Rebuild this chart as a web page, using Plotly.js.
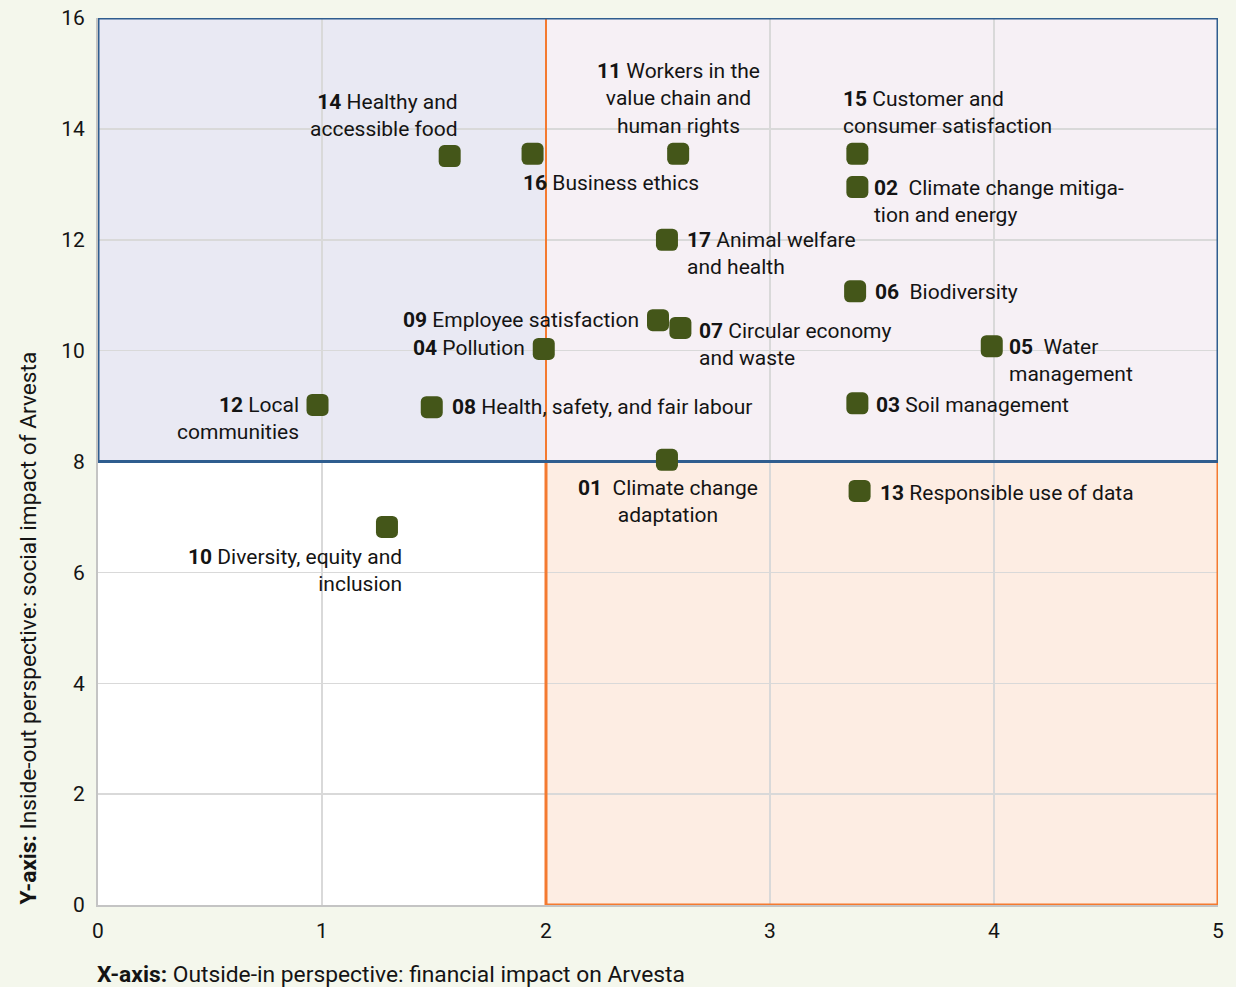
<!DOCTYPE html>
<html>
<head>
<meta charset="utf-8">
<script src="https://cdn.plot.ly/plotly-3.0.1.min.js"></script>
<style>
  html, body { margin: 0; padding: 0; background: #f4f7ec; }
  #chart { width: 1236px; height: 987px; }
  .scatterlayer path.point { stroke-linejoin: round; }
</style>
</head>
<body>
<div id="chart"></div>
<script>
// ---- Data ----
const topicIds = ['01','02','03','04','05','06','07','08','09','10','11','12','13','14','15','16','17'];
const topicNames = [
  'Climate change<br>adaptation',
  'Climate change mitiga-<br>tion and energy',
  'Soil management',
  'Pollution',
  'Water<br>management',
  'Biodiversity',
  'Circular economy<br>and waste',
  'Health, safety, and fair labour',
  'Employee satisfaction',
  'Diversity, equity and<br>inclusion',
  'Workers in the<br>value chain and<br>human rights',
  'Local<br>communities',
  'Responsible use of data',
  'Healthy and<br>accessible food',
  'Customer and<br>consumer satisfaction',
  'Business ethics',
  'Animal welfare<br>and health'
];
// X: outside-in (financial impact), Y: inside-out (social impact)
const financialImpact = [2.54, 3.39, 3.39, 1.99, 3.99, 3.38, 2.60, 1.49, 2.50, 1.29, 2.59, 0.98, 3.40, 1.57, 3.39, 1.94, 2.54];
const socialImpact    = [8.03, 12.95, 9.05, 10.03, 10.08, 11.07, 10.41, 8.98, 10.55, 6.82, 13.55, 9.02, 7.47, 13.51, 13.55, 13.55, 12.0];
const xTicks = [0, 1, 2, 3, 4, 5];
const yTicks = [0, 2, 4, 6, 8, 10, 12, 14, 16];
const wideGap = ['01','02','05','06'];

// ---- Label placement (pixel offsets relative to each marker) ----
const labelPlacement = {
  '01': {xa:'center', ya:'middle', al:'center', dx:1,   dy:-42},
  '02': {xa:'left',   ya:'middle', al:'left',   dx:15,  dy:-14.5},
  '03': {xa:'left',   ya:'middle', al:'left',   dx:17,  dy:-2},
  '04': {xa:'right',  ya:'middle', al:'right',  dx:-17, dy:1},
  '05': {xa:'left',   ya:'middle', al:'left',   dx:15,  dy:-14},
  '06': {xa:'left',   ya:'middle', al:'left',   dx:18,  dy:-1},
  '07': {xa:'left',   ya:'middle', al:'left',   dx:17,  dy:-16.5},
  '08': {xa:'left',   ya:'middle', al:'left',   dx:18,  dy:0},
  '09': {xa:'right',  ya:'middle', al:'right',  dx:-17, dy:0},
  '10': {xa:'right',  ya:'middle', al:'right',  dx:17,  dy:-44},
  '11': {xa:'center', ya:'bottom', al:'center', dx:0,   dy:14},
  '12': {xa:'right',  ya:'middle', al:'right',  dx:-17, dy:-13.5},
  '13': {xa:'left',   ya:'middle', al:'left',   dx:18,  dy:-2},
  '14': {xa:'right',  ya:'bottom', al:'right',  dx:10,  dy:13},
  '15': {xa:'left',   ya:'bottom', al:'left',   dx:-16, dy:14},
  '16': {xa:'left',   ya:'middle', al:'left',   dx:-12, dy:-29},
  '17': {xa:'left',   ya:'middle', al:'left',   dx:18,  dy:-13.5}
};

const FONT = 'Roboto, "Noto Sans", sans-serif';
const TXT = '#141414';

const trace = {
  type: 'scatter',
  mode: 'markers',
  x: financialImpact,
  y: socialImpact,
  marker: {
    symbol: 'square',
    size: 11,
    color: '#445619',
    line: {color: '#445619', width: 11}
  },
  hoverinfo: 'skip'
};

const annotations = topicIds.map((id, i) => {
  const p = labelPlacement[id];
  const gap = wideGap.includes(id) ? '\u00a0\u00a0' : ' ';
  return {
    x: financialImpact[i], y: socialImpact[i], xref: 'x', yref: 'y',
    text: '<b>' + id + '</b>' + gap + topicNames[i],
    showarrow: false,
    xanchor: p.xa, yanchor: p.ya, align: p.al,
    xshift: p.dx, yshift: p.dy,
    font: {family: FONT, size: 21, color: TXT}
  };
});

annotations.push({
  xref: 'paper', yref: 'paper', x: 0, y: 0,
  xanchor: 'left', yanchor: 'middle', xshift: -3, yshift: -69,
  showarrow: false,
  text: '<b>X-axis:</b> Outside-in perspective: financial impact on Arvesta',
  font: {family: FONT, size: 22.8, color: TXT}
});
annotations.push({
  xref: 'paper', yref: 'paper', x: 0, y: 0,
  xanchor: 'center', yanchor: 'bottom', xshift: -70, yshift: -2,
  textangle: -90,
  showarrow: false,
  text: '<b>Y-axis:</b> Inside-out perspective: social impact of Arvesta',
  font: {family: FONT, size: 22.7, color: TXT}
});

const shapes = [
  {type:'rect', layer:'below', xref:'x', yref:'y', x0:0, x1:2, y0:8, y1:16, fillcolor:'#e9e9f3', line:{width:0}},
  {type:'rect', layer:'below', xref:'x', yref:'y', x0:2, x1:5, y0:8, y1:16, fillcolor:'#f6f0f5', line:{width:0}},
  {type:'rect', layer:'below', xref:'x', yref:'y', x0:2, x1:5, y0:0, y1:8, fillcolor:'#fdede3', line:{width:0}},
  {type:'rect', layer:'below', xref:'x', yref:'y', x0:0, x1:2, y0:0, y1:8, fillcolor:'#ffffff', line:{width:0}},
  {type:'line', layer:'between', xref:'x', yref:'y', x0:2, x1:2, y0:8, y1:16, line:{color:'#f47a30', width:2}},
  {type:'rect', layer:'between', xref:'x', yref:'y', x0:2, x1:5, y0:0, y1:8, line:{color:'#f47a30', width:3}},
  {type:'rect', layer:'between', xref:'x', yref:'y', x0:0, x1:5, y0:8, y1:16, line:{color:'#2f5d8f', width:3}}
];

const layout = {
  width: 1236, height: 987,
  margin: {l: 98, r: 18, t: 18, b: 82},
  paper_bgcolor: '#f4f7ec',
  plot_bgcolor: '#ffffff',
  showlegend: false,
  xaxis: {
    range: [0, 5], tickvals: xTicks, ticktext: xTicks.map(String),
    showgrid: true, gridcolor: '#d9d9d9', gridwidth: 1.5,
    zeroline: false, showline: true, linecolor: '#c4c4c4', linewidth: 2,
    ticks: 'outside', ticklen: 6, tickcolor: 'rgba(0,0,0,0)',
    tickfont: {family: FONT, size: 21, color: TXT},
    fixedrange: true
  },
  yaxis: {
    range: [0, 16], tickvals: yTicks, ticktext: yTicks.map(String),
    showgrid: true, gridcolor: '#d9d9d9', gridwidth: 1.5,
    zeroline: false, showline: true, linecolor: '#c4c4c4', linewidth: 2,
    ticks: 'outside', ticklen: 7, tickcolor: 'rgba(0,0,0,0)',
    tickfont: {family: FONT, size: 21, color: TXT},
    fixedrange: true
  },
  shapes: shapes,
  annotations: annotations,
  font: {family: FONT, color: TXT}
};

Plotly.newPlot('chart', [trace], layout, {displayModeBar: false, staticPlot: true});
</script>
</body>
</html>
